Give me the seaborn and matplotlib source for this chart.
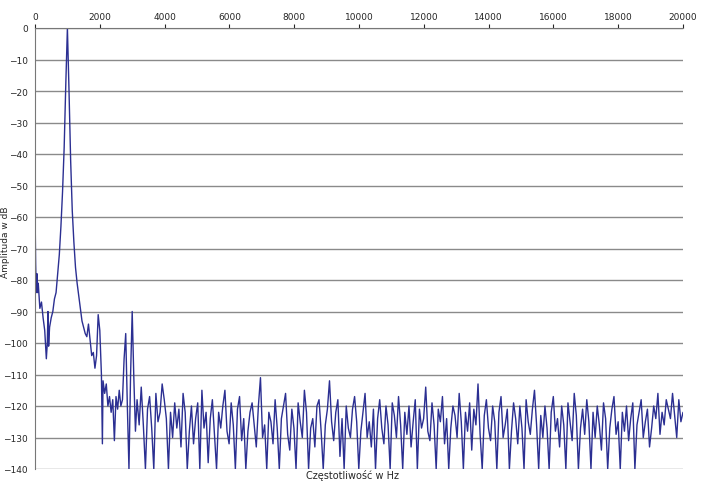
import numpy as np
import pandas as pd
import seaborn as sns
import matplotlib
matplotlib.use("Agg")
import matplotlib.pyplot as plt

# low-frequency part (Hz, dB)
low_freq = [0, 20, 40, 60, 80, 100, 150, 200, 250, 300, 350, 380, 400, 420, 450, 500,
            550, 600, 650, 700, 750, 800, 850, 900, 950, 1000, 1050, 1100, 1150, 1200,
            1250, 1300, 1350, 1400, 1450, 1500, 1550, 1600, 1650, 1700, 1750, 1800,
            1850, 1900, 1950, 2000, 2050, 2080,
            2100, 2150, 2200, 2250, 2300, 2350, 2400, 2450, 2500, 2550, 2600, 2650,
            2700, 2750, 2800, 2850, 2900, 2950, 3000, 3050, 3100]
low_db = [-57, -75, -84, -78, -84, -81, -89, -87, -92, -96, -105, -100, -90, -101, -95, -92,
          -90, -86, -84, -78, -72, -63, -52, -38, -18, 0, -20, -42, -58, -68,
          -76, -81, -85, -89, -93, -95, -97, -98, -94, -99, -104, -103,
          -108, -104, -91, -96, -110, -132,
          -112, -116, -113, -120, -117, -122, -118, -131, -117, -121, -115, -120,
          -118, -105, -97, -120, -140, -110, -90, -111, -128]

# noise floor 3150..20000 Hz
noise_db = [
 -118, -126,
 -114, -126, -140, -121, -117, -127, -140, -116, -125, -122, -113, -118, -124, -140, -122,
 -130, -119, -127, -121, -133, -116, -122, -140, -128, -120, -132, -124, -119, -140, -115,
 -127, -122, -138, -124, -118, -129, -140, -122, -127, -120, -115, -128, -132, -119, -126,
 -140, -121, -117, -131, -124, -140, -128, -122, -119, -126, -133, -120, -111, -130, -126,
 -140, -122, -125, -132, -118, -127, -140, -124, -120, -116, -129, -134, -121, -127, -140,
 -119, -125, -130, -115, -122, -140, -127, -124, -133, -120, -118, -128, -140, -126, -121,
 -112, -125, -131, -122, -118, -136, -124, -140, -120, -127, -130, -121, -117, -125, -140,
 -128, -122, -116, -130, -125, -133, -121, -140, -124, -118, -127, -132, -120, -126, -140,
 -119, -123, -130, -117, -126, -140, -122, -129, -120, -133, -125, -118, -140, -121, -127,
 -124, -114, -128, -131, -119, -126, -140, -121, -125, -117, -132, -124, -140, -127, -120,
 -123, -130, -116, -125, -140, -122, -128, -119, -134, -121, -126, -113, -129, -140, -123,
 -118, -127, -131, -120, -125, -140, -122, -117, -130, -126, -121, -140, -128, -119, -124,
 -132, -120, -127, -140, -118, -125, -129, -121, -115, -126, -140, -123, -130, -120, -127,
 -140, -122, -117, -128, -124, -133, -120, -126, -140, -119, -125, -131, -116, -123, -140,
 -127, -121, -129, -118, -125, -140, -122, -130, -120, -126, -134, -119, -124, -140, -127,
 -121, -117, -129, -125, -140, -122, -128, -120, -131, -124, -119, -140, -126, -122, -118,
 -130, -125, -121, -133, -127, -120, -124, -116, -129, -122, -126, -118, -121, -124, -116,
 -123, -130, -118, -125, -122,
]
noise_freq = list(np.linspace(3150, 20000, len(noise_db)))

df = pd.DataFrame({"freq": low_freq + noise_freq, "db": low_db + noise_db})

sns.set_style("white")
fig = plt.figure(figsize=(7.05, 4.85), dpi=100)
ax = fig.add_axes([35 / 705, 15 / 485, 648 / 705, 441 / 485])
sns.lineplot(data=df, x="freq", y="db", ax=ax, color="#2b2f92", linewidth=1.0)

ax.set_xlim(0, 20000)
ax.set_ylim(-140, 0)
ax.set_xticks(range(0, 20001, 2000))
ax.set_yticks(range(-140, 1, 10))
ax.xaxis.tick_top()
ax.tick_params(axis="both", labelsize=6.5, length=3, direction="out", pad=2)
ax.yaxis.grid(True, color="#8a8a8a", linewidth=1)
for s in ["right", "bottom"]:
    ax.spines[s].set_visible(False)
ax.spines["top"].set_color("#777777")
ax.spines["left"].set_color("#777777")
ax.set_xlabel("")
ax.set_ylabel("")
fig.text(6 / 705, 0.5, "Amplituda w dB", rotation=90, ha="center", va="center", fontsize=6.5)
fig.text(0.5, 4 / 485, "Częstotliwość w Hz", ha="center", va="bottom", fontsize=7)
fig.savefig("out.png", dpi=100)
